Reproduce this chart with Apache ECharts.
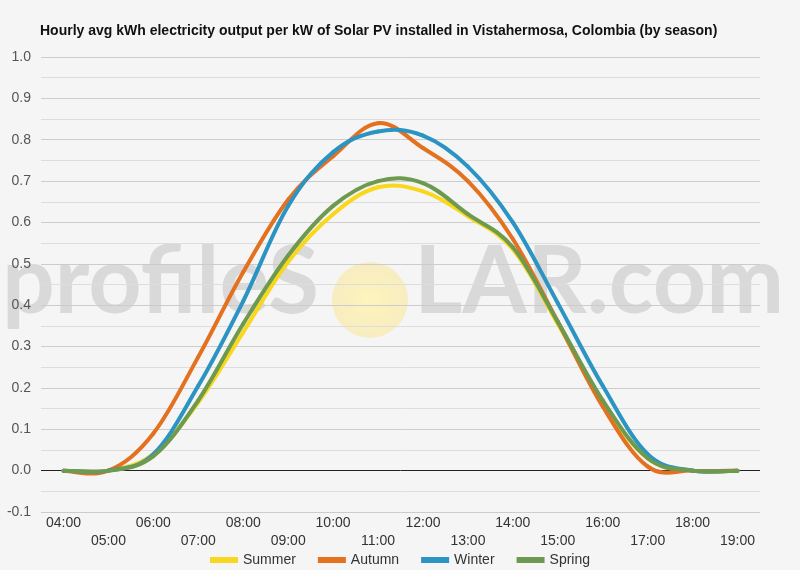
<!DOCTYPE html>
<html>
<head>
<meta charset="utf-8">
<script src="https://cdn.jsdelivr.net/npm/echarts@6/dist/echarts.min.js"></script>
<style>
  html, body { margin: 0; padding: 0; background: #f5f5f5; }
  #chart { width: 800px; height: 570px; }
</style>
</head>
<body>
<div id="chart"></div>
<script>
const hours = ['04:00', '05:00', '06:00', '07:00', '08:00', '09:00', '10:00', '11:00',
  '12:00', '13:00', '14:00', '15:00', '16:00', '17:00', '18:00', '19:00'];
const summer = [0, 0, 0.04, 0.165, 0.335, 0.505, 0.62, 0.685, 0.675, 0.615, 0.535, 0.355, 0.165, 0.03, 0, 0];
const autumn = [0, 0, 0.09, 0.275, 0.48, 0.655, 0.76, 0.84, 0.78, 0.70, 0.56, 0.36, 0.155, 0.01, 0, 0];
const winter = [0, 0, 0.04, 0.205, 0.41, 0.64, 0.77, 0.82, 0.81, 0.735, 0.60, 0.405, 0.205, 0.04, 0, 0];
const spring = [0, 0, 0.035, 0.17, 0.355, 0.52, 0.64, 0.70, 0.695, 0.62, 0.54, 0.36, 0.17, 0.03, 0, 0];

const colors = ['#f9d71c', '#e3711f', '#2b94c3', '#6d9a4e'];
const tension = 0.18;

// grid line colours from -0.1 up to 1.0; the 0.0 line is dark
const gridColors = ['#cccccc', '#222222', '#cccccc', '#cccccc', '#cccccc', '#cccccc',
  '#cccccc', '#cccccc', '#cccccc', '#cccccc', '#cccccc', '#cccccc'];

// spline through the points, drawn as bezier pieces in pixel space from api.coord
function curve(name, values, color) {
  return {
    name: name,
    type: 'custom',
    data: values.map((v, i) => [i, v]),
    encode: { x: 0, y: 1 },
    itemStyle: { color: color },
    z: 5,
    renderItem: function (params, api) {
      if (params.dataIndex !== 0) return;
      const pts = values.map((v, i) => api.coord([i, v]));
      const n = pts.length;
      const pieces = [];
      for (let i = 0; i < n - 1; i++) {
        const p0 = pts[Math.max(i - 1, 0)];
        const p1 = pts[i];
        const p2 = pts[i + 1];
        const p3 = pts[Math.min(i + 2, n - 1)];
        pieces.push({
          type: 'bezierCurve',
          shape: {
            x1: p1[0], y1: p1[1],
            x2: p2[0], y2: p2[1],
            cpx1: p1[0] + (p2[0] - p0[0]) * tension,
            cpy1: p1[1] + (p2[1] - p0[1]) * tension,
            cpx2: p2[0] - (p3[0] - p1[0]) * tension,
            cpy2: p2[1] - (p3[1] - p1[1]) * tension
          },
          style: { stroke: color, lineWidth: 4, fill: null, lineCap: 'round' }
        });
      }
      return { type: 'group', children: pieces };
    }
  };
}

echarts.init(document.querySelector('#chart')).setOption({
  backgroundColor: '#f5f5f5',
  color: colors,
  textStyle: { fontFamily: 'Liberation Sans, Arial, sans-serif' },
  title: {
    text: 'Hourly avg kWh electricity output per kW of Solar PV installed in Vistahermosa, Colombia (by season)',
    left: 35,
    top: 19,
    textStyle: { fontSize: 14, fontWeight: 'bold', color: '#111' }
  },
  graphic: [
    {
      type: 'text', left: 2, top: 236, z: 0, silent: true,
      style: { text: 'profileS', font: 'bold 93px Lato, sans-serif', fill: '#d9d9d9' }
    },
    {
      type: 'circle', z: 0, silent: true,
      shape: { cx: 370, cy: 300, r: 38 },
      style: {
        fill: new echarts.graphic.RadialGradient(0.5, 0.5, 0.5, [
          { offset: 0, color: 'rgba(255,245,170,0.75)' },
          { offset: 1, color: 'rgba(250,230,150,0.55)' }
        ])
      }
    },
    {
      type: 'text', left: 414, top: 236, z: 0, silent: true,
      style: { text: 'LAR.com', font: 'bold 93px Lato, sans-serif', fill: '#d9d9d9' }
    }
  ],
  legend: {
    bottom: -2,
    left: 'center',
    itemWidth: 28,
    itemHeight: 6,
    itemGap: 22,
    icon: 'rect',
    textStyle: { fontSize: 14, color: '#333' },
    data: ['Summer', 'Autumn', 'Winter', 'Spring']
  },
  grid: { left: 41, right: 40, top: 57, bottom: 58 },
  xAxis: {
    type: 'category',
    data: hours,
    boundaryGap: true,
    axisLine: { show: false },
    axisTick: { show: false },
    axisLabel: {
      interval: 0,
      fontSize: 14,
      color: '#333',
      margin: 2,
      lineHeight: 18,
      formatter: (v, i) => (i % 2 ? '\n' + v : v)
    }
  },
  yAxis: {
    type: 'value',
    min: -0.1,
    max: 1.0,
    interval: 0.1,
    axisLine: { show: false },
    axisTick: { show: false },
    axisLabel: {
      fontSize: 14,
      color: '#555',
      margin: 10,
      formatter: v => v.toFixed(1)
    },
    splitLine: { lineStyle: { color: gridColors, width: 1 } },
    minorTick: { show: false, splitNumber: 2 },
    minorSplitLine: { show: true, lineStyle: { color: '#dddddd', width: 1 } }
  },
  series: [
    curve('Summer', summer, colors[0]),
    curve('Autumn', autumn, colors[1]),
    curve('Winter', winter, colors[2]),
    curve('Spring', spring, colors[3])
  ]
});
</script>
</body>
</html>
